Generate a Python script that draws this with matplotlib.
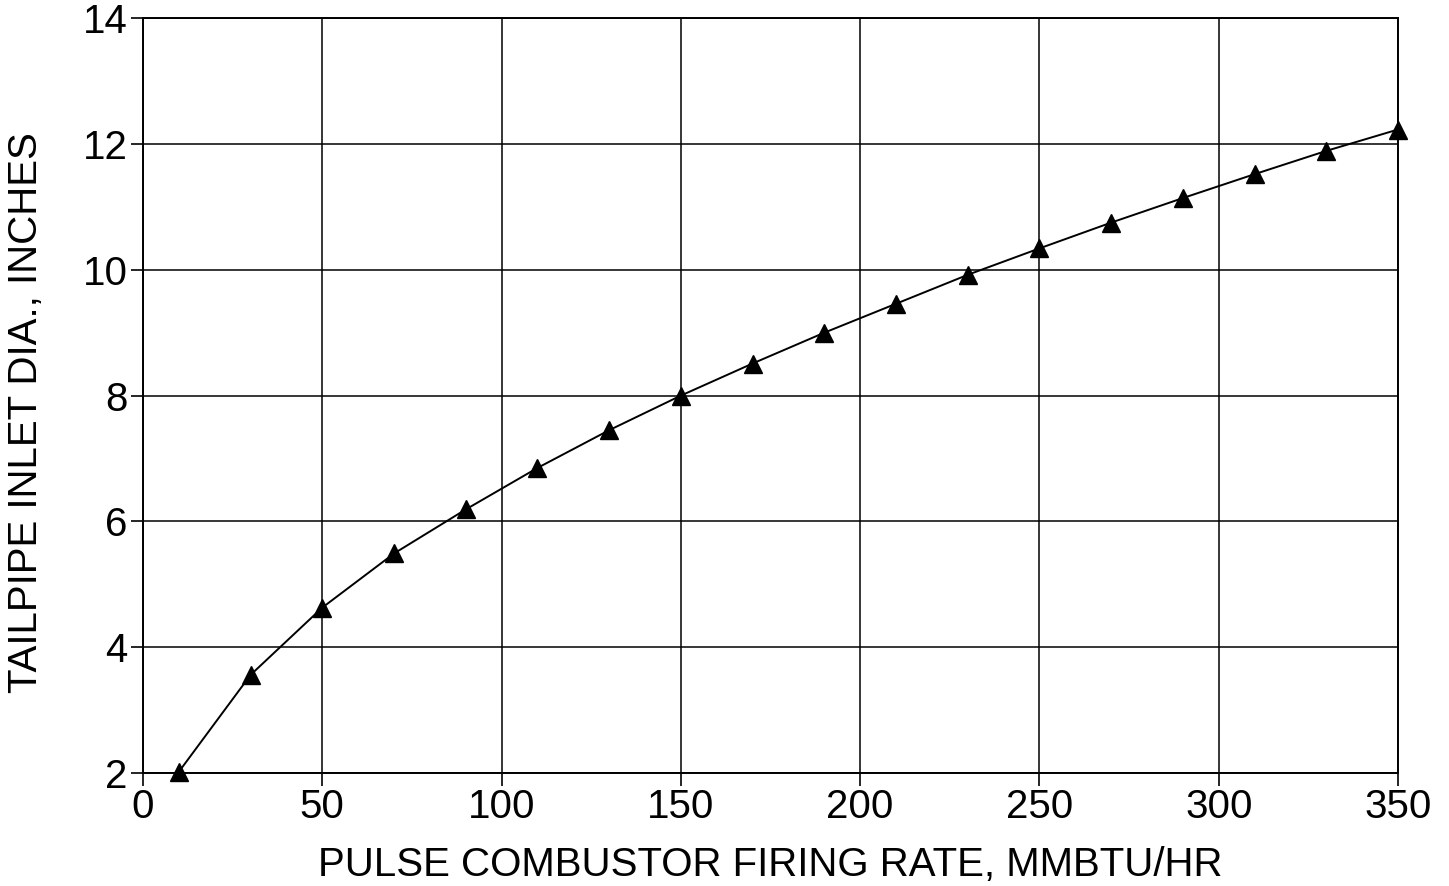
import matplotlib.pyplot as plt

plt.rcParams['font.family'] = ['Liberation Sans', 'DejaVu Sans']

firing_rate = [10, 30, 50, 70, 90, 110, 130, 150, 170, 190, 210, 230, 250, 270, 290, 310, 330, 350]
inlet_dia = [2.02, 3.56, 4.63, 5.49, 6.19, 6.85, 7.45, 8.0, 8.51, 9.0, 9.46, 9.92, 10.34, 10.75, 11.14, 11.52, 11.89, 12.23]

x_ticks = [0, 50, 100, 150, 200, 250, 300, 350]
y_ticks = [2, 4, 6, 8, 10, 12, 14]

fig = plt.figure(figsize=(14.49, 8.86), dpi=100)
ax = fig.add_axes([0.0987, 0.1275, 0.8661, 0.852])

ax.plot(firing_rate, inlet_dia, color='black', linewidth=1.4, marker='^',
        markersize=13, markerfacecolor='black', markeredgecolor='black', clip_on=False, zorder=3)

ax.set_xlim(0, 350)
ax.set_ylim(2, 14)
ax.set_xticks(x_ticks)
ax.set_yticks(y_ticks)
ax.grid(True, color='black', linewidth=1.1)
for s in ax.spines.values():
    s.set_linewidth(1.4)
ax.tick_params(direction='out', length=9, width=1.2, labelsize=29, pad=2)

ax.set_xlabel('PULSE COMBUSTOR FIRING RATE, MMBTU/HR', fontsize=29, labelpad=14)
ax.set_ylabel('TAILPIPE INLET DIA., INCHES', fontsize=29)
ax.yaxis.set_label_coords(-0.078, 0.478)

fig.savefig('out.png', dpi=100)
